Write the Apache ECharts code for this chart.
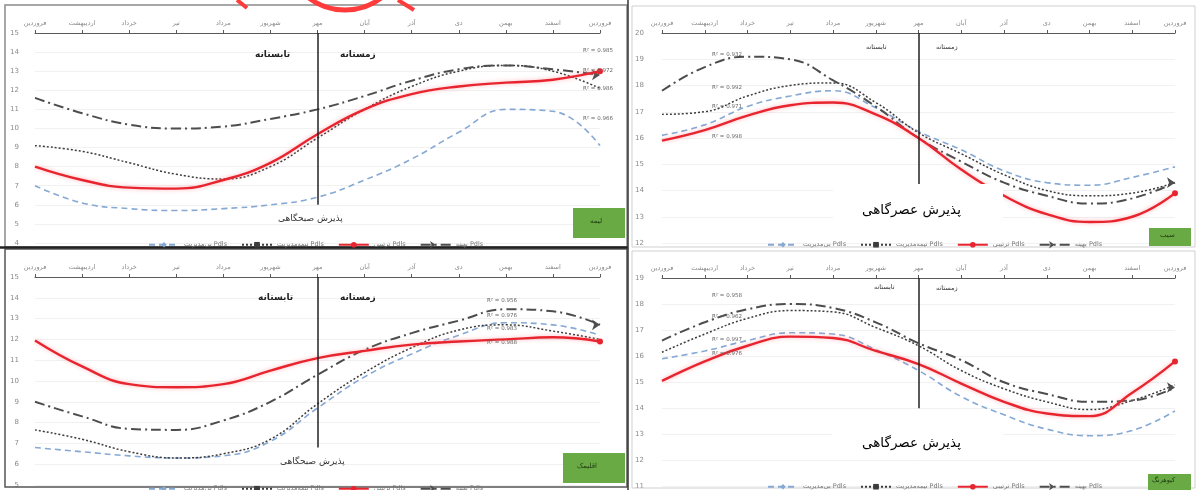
<!DOCTYPE html>
<html>
<head>
<meta charset="utf-8">
<script src="https://cdn.jsdelivr.net/npm/echarts@6/dist/echarts.min.js"></script>
<style>
html,body{margin:0;padding:0;background:#fff}
#main{width:1198px;height:490px}
</style>
</head>
<body>
<div id="main"></div>
<script>
// month labels on top axis
var months = ['فروردین','اردیبهشت','خرداد','تیر','مرداد','شهریور','مهر','آبان','آذر','دی','بهمن','اسفند','فروردین'];

// top-left (morning)
var tlBlue = [7.0, 6.1, 5.8, 5.7, 5.8, 6.0, 6.4, 7.3, 8.4, 9.8, 11.0, 10.9, 9.1];
var tlDot  = [9.1, 8.8, 8.2, 7.6, 7.35, 8.0, 9.5, 11.0, 12.2, 13.0, 13.3, 13.0, 12.1];
var tlRed  = [8.0, 7.3, 6.9, 6.85, 7.3, 8.2, 9.7, 11.0, 11.8, 12.2, 12.4, 12.55, 13.0];
var tlDash = [11.6, 10.8, 10.2, 10.0, 10.1, 10.5, 11.0, 11.7, 12.5, 13.1, 13.3, 13.1, 12.8];

// top-right (afternoon)
var trBlue = [16.1, 16.5, 17.2, 17.6, 17.8, 17.15, 16.25, 15.55, 14.75, 14.3, 14.2, 14.5, 14.9];
var trDot  = [16.9, 17.0, 17.6, 18.0, 18.1, 17.35, 16.2, 15.4, 14.6, 14.0, 13.8, 13.9, 14.3];
var trRed  = [15.9, 16.3, 16.85, 17.25, 17.35, 16.9, 16.0, 14.8, 13.8, 13.1, 12.8, 13.0, 13.9];
var trDash = [17.8, 18.7, 19.1, 19.0, 18.2, 17.2, 16.0, 15.1, 14.3, 13.8, 13.5, 13.7, 14.3];

// bottom-left (morning)
var blBlue = [6.8, 6.6, 6.4, 6.3, 6.4, 7.1, 8.7, 10.2, 11.3, 12.2, 12.8, 12.7, 12.2];
var blDot  = [7.65, 7.2, 6.6, 6.3, 6.5, 7.2, 8.9, 10.4, 11.6, 12.45, 12.7, 12.4, 12.0];
var blRed  = [11.95, 10.7, 9.85, 9.7, 9.85, 10.5, 11.1, 11.45, 11.75, 11.9, 12.0, 12.1, 11.9];
var blDash = [9.0, 8.3, 7.7, 7.65, 8.1, 9.0, 10.3, 11.5, 12.3, 12.9, 13.45, 13.35, 12.7];

// bottom-right (afternoon)
var brBlue = [15.9, 16.2, 16.6, 16.9, 16.85, 16.25, 15.45, 14.45, 13.75, 13.2, 12.95, 13.15, 13.9];
var brDot  = [16.15, 16.85, 17.45, 17.75, 17.7, 17.1, 16.4, 15.45, 14.75, 14.25, 13.95, 14.3, 14.9];
var brRed  = [15.05, 15.8, 16.4, 16.75, 16.7, 16.2, 15.7, 14.95, 14.25, 13.8, 13.7, 14.6, 15.8];
var brDash = [16.6, 17.3, 17.8, 18.0, 17.85, 17.3, 16.5, 15.85, 15.0, 14.55, 14.25, 14.3, 14.8];

var seriesNames = ['بی‌مدیریت Pdls', 'نیمه‌مدیریت Pdls', 'ترتیبی Pdls', 'بهینه Pdls'];
var r2Labels = {
  tl: ['R² = 0.985', 'R² = 0.972', 'R² = 0.986', 'R² = 0.966'],
  tr: ['R² = 0.932', 'R² = 0.992', 'R² = 0.971', 'R² = 0.998'],
  bl: ['R² = 0.956', 'R² = 0.976', 'R² = 0.983', 'R² = 0.988'],
  br: ['R² = 0.958', 'R² = 0.962', 'R² = 0.997', 'R² = 0.976']
};
var siteNames = ['لیمه', 'سیب', 'اقلیمک', 'کیوهرنگ'];

var FONT = 'DejaVu Sans';
var chart = echarts.init(document.getElementById('main'));

var styles = [
  {color:'#86a8d4', type:[6,4], width:1.6, symbol:'diamond', size:6, end:false},
  {color:'#3c3c3c', type:[2,2], width:1.5, symbol:'rect', size:4, end:false},
  {color:'#e8252f', type:'solid', width:2.4, symbol:'circle', size:6, end:true},
  {color:'#4d4d4d', type:[10,4,2,4], width:2, symbol:'arrow', size:8, end:true}
];

function mk(gi, arr, k, extra) {
  var st = styles[k];
  var s = {
    type:'line', name: seriesNames[k], xAxisIndex: gi, yAxisIndex: gi,
    smooth: 0.45, symbol: st.symbol, symbolSize: st.size, showSymbol: true,
    symbolRotate: st.symbol === 'arrow' ? -90 : 0,
    lineStyle:{color: st.color, width: st.width, type: st.type},
    itemStyle:{color: st.color},
    z: k === 2 ? 4 : 3,
    data: arr.map(function (v, i) {
      if (st.end && i === arr.length - 1) return {value: v};
      return {value: v, symbol: 'none'};
    })
  };
  if (k === 2) {
    s.lineStyle.shadowColor = 'rgba(255,120,130,0.55)';
    s.lineStyle.shadowBlur = 4;
  }
  if (extra) for (var key in extra) s[key] = extra[key];
  return s;
}

function sep(top, bottom) {
  return {
    symbol:'none', silent:true, label:{show:false},
    lineStyle:{color:'#222', width:1.5, type:'solid'},
    data:[[{coord:[6, top]}, {coord:[6, bottom]}]]
  };
}

var grids = [
  {left:35, right:598, top:33, bottom:247},
  {left:662, right:23, top:33, bottom:247},
  {left:35, right:598, top:277, bottom:5},
  {left:662, right:23, top:278, bottom:2}
];
var yRanges = [[4,15],[12,20],[5,15],[11,19]];

var xAxes = grids.map(function (g, i) {
  return {
    type:'category', gridIndex:i, position:'top', data: months, boundaryGap:false,
    axisLine:{onZero:false, lineStyle:{color:'#5a5a5a', width:1.2}},
    axisTick:{show:true, length:3, inside:false, lineStyle:{color:'#5a5a5a'}},
    axisLabel:{fontSize:6.5, color:'#8a8a8a', margin:6, interval:0, fontFamily:FONT},
    splitLine:{show:false}
  };
});
var yAxes = yRanges.map(function (r, i) {
  return {
    type:'value', gridIndex:i, min:r[0], max:r[1], interval:1,
    axisLine:{show:false}, axisTick:{show:false},
    axisLabel:{fontSize:7, color:'#8a8a8a', margin:i % 2 ? 18 : 16, fontFamily:FONT},
    splitLine:{lineStyle:{color:'#f1f1f1'}}
  };
});

var series = [
  mk(0, tlBlue, 0), mk(0, tlDot, 1), mk(0, tlRed, 2, {markLine: sep(15, 6.0)}), mk(0, tlDash, 3),
  mk(1, trBlue, 0), mk(1, trDot, 1), mk(1, trRed, 2, {markLine: sep(20, 13.5)}), mk(1, trDash, 3),
  mk(2, blBlue, 0), mk(2, blDot, 1), mk(2, blRed, 2, {markLine: sep(15, 6.8)}), mk(2, blDash, 3),
  mk(3, brBlue, 0), mk(3, brDot, 1), mk(3, brRed, 2, {markLine: sep(19, 14.0)}), mk(3, brDash, 3)
];

var legendPos = [[143, 236], [762, 236], [143, 480], [762, 478]];
var legends = legendPos.map(function (p) {
  return {
    left:p[0], top:p[1], itemWidth:30, itemHeight:7, itemGap:14, data: seriesNames,
    textStyle:{fontSize:6.5, color:'#777', fontFamily:FONT}
  };
});

function txt(x, y, s, size, color, align, weight) {
  return {type:'text', left:x, top:y, z:120,
    style:{text:s, fontSize:size, fill:color || '#222', fontFamily:FONT, fontWeight:weight || 'normal', textAlign:align || 'left'}};
}
function r2(x, ys, arr) {
  return arr.map(function (s, i) { return txt(x, ys[i], s, 5.5, '#666'); });
}

var graphic = [
  // panel frames
  {type:'rect', shape:{x:5, y:5, width:622, height:242}, style:{fill:'none', stroke:'#8a8a8a', lineWidth:1.5}, z:1},
  {type:'rect', shape:{x:5, y:249, width:622, height:238}, style:{fill:'none', stroke:'#555', lineWidth:1.5}, z:1},
  {type:'line', shape:{x1:0, y1:247.5, x2:628, y2:247.5}, style:{stroke:'#222', lineWidth:2.5}, z:1},
  {type:'line', shape:{x1:628, y1:0, x2:628, y2:490}, style:{stroke:'#333', lineWidth:1.5}, z:1},
  {type:'rect', shape:{x:632, y:6, width:563, height:241}, style:{fill:'none', stroke:'#cfcfcf', lineWidth:1}, z:1},
  {type:'rect', shape:{x:632, y:251, width:563, height:237}, style:{fill:'none', stroke:'#cfcfcf', lineWidth:1}, z:1},
  // red marks at top
  {type:'line', shape:{x1:237, y1:0, x2:247, y2:8}, style:{stroke:'#ff3b3b', lineWidth:4}, z:130},
  {type:'circle', shape:{cx:345, cy:-50, r:60}, style:{fill:'none', stroke:'#ff3b3b', lineWidth:5}, z:130},
  {type:'line', shape:{x1:398, y1:0, x2:414, y2:10}, style:{stroke:'#ff3b3b', lineWidth:4}, z:130},
  // season words
  txt(255, 50, 'تابستانه', 9, '#222', 'left', 'bold'),
  txt(340, 50, 'زمستانه', 9, '#222', 'left', 'bold'),
  txt(866, 44, 'تابستانه', 6.5, '#333'),
  txt(936, 44, 'زمستانه', 6.5, '#333'),
  txt(258, 293, 'تابستانه', 9, '#222', 'left', 'bold'),
  txt(340, 293, 'زمستانه', 9, '#222', 'left', 'bold'),
  txt(874, 284, 'تابستانه', 6.5, '#333'),
  txt(936, 285, 'زمستانه', 6.5, '#333'),
  // morning labels
  txt(278, 214, 'پذیرش صبحگاهی', 9, '#333'),
  txt(280, 457, 'پذیرش صبحگاهی', 9, '#333'),
  // afternoon boxes
  {type:'rect', shape:{x:833, y:184, width:170, height:46}, style:{fill:'#fff'}, z:110},
  txt(862, 203, 'پذیرش عصرگاهی', 13.5, '#000'),
  {type:'rect', shape:{x:832, y:418, width:171, height:42}, style:{fill:'#fff'}, z:110},
  txt(862, 436, 'پذیرش عصرگاهی', 13.5, '#000'),
  // green site boxes
  {type:'rect', shape:{x:573, y:208, width:52, height:30}, style:{fill:'#6aaa45'}, z:110},
  txt(590, 218, siteNames[0], 7, '#1d3a10'),
  {type:'rect', shape:{x:1149, y:228, width:42, height:18}, style:{fill:'#6aaa45'}, z:110},
  txt(1160, 232, siteNames[1], 7, '#1d3a10'),
  {type:'rect', shape:{x:563, y:453, width:62, height:30}, style:{fill:'#6aaa45'}, z:110},
  txt(577, 463, siteNames[2], 7, '#1d3a10'),
  {type:'rect', shape:{x:1148, y:474, width:43, height:16}, style:{fill:'#6aaa45'}, z:110},
  txt(1152, 477, siteNames[3], 6.5, '#1d3a10')
];
graphic = graphic
  .concat(r2(583, [48, 68, 86, 116], r2Labels.tl))
  .concat(r2(712, [52, 85, 104, 134], r2Labels.tr))
  .concat(r2(487, [298, 313, 326, 340], r2Labels.bl))
  .concat(r2(712, [293, 314, 337, 351], r2Labels.br));

chart.setOption({
  animation:false,
  backgroundColor:'#fff',
  textStyle:{fontFamily:FONT},
  grid: grids,
  xAxis: xAxes,
  yAxis: yAxes,
  legend: legends,
  series: series,
  graphic: graphic
});
</script>
</body>
</html>
